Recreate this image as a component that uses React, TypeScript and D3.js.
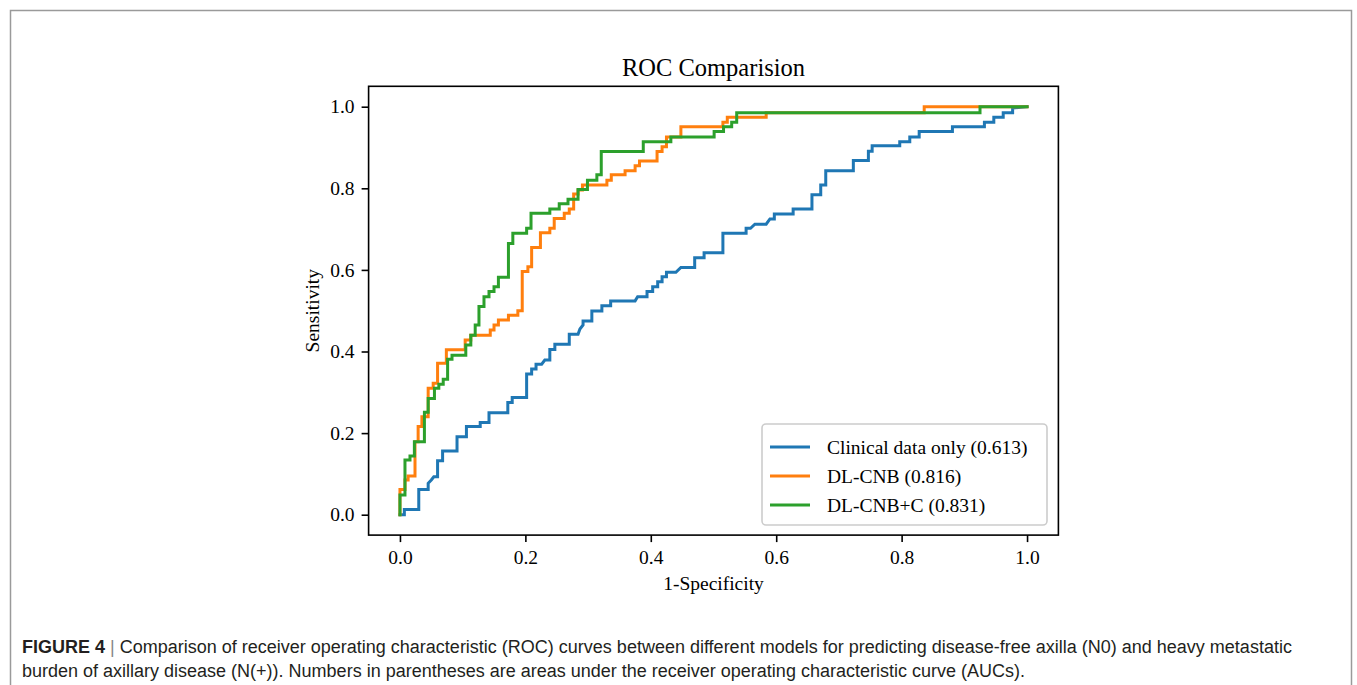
import React, { useEffect, useRef } from "react";
import * as d3 from "d3";

type Pt = [number, number];

// ROC corner points: [1-specificity, sensitivity]
const clinicalRoc: Pt[] = [
  [0, 0], [0.007, 0], [0.007, 0.013], [0.03, 0.013], [0.03, 0.062], [0.045, 0.062],
  [0.045, 0.077], [0.05, 0.085], [0.054, 0.093], [0.06, 0.093], [0.06, 0.132],
  [0.068, 0.132], [0.068, 0.156], [0.091, 0.156], [0.091, 0.191], [0.106, 0.191],
  [0.106, 0.216], [0.128, 0.216], [0.128, 0.226], [0.142, 0.226], [0.142, 0.25],
  [0.172, 0.25], [0.172, 0.275], [0.179, 0.275], [0.179, 0.287], [0.202, 0.287],
  [0.202, 0.345], [0.21, 0.345], [0.21, 0.357], [0.217, 0.357], [0.217, 0.369],
  [0.226, 0.369], [0.231, 0.379], [0.239, 0.379], [0.239, 0.405], [0.247, 0.405],
  [0.247, 0.418], [0.27, 0.418], [0.27, 0.442], [0.284, 0.442], [0.287, 0.455],
  [0.292, 0.465], [0.292, 0.475], [0.306, 0.475], [0.306, 0.499], [0.322, 0.499],
  [0.322, 0.512], [0.336, 0.512], [0.336, 0.524], [0.375, 0.524], [0.379, 0.534],
  [0.394, 0.534], [0.394, 0.547], [0.403, 0.547], [0.403, 0.559], [0.411, 0.559],
  [0.411, 0.571], [0.418, 0.571], [0.418, 0.583], [0.425, 0.583], [0.425, 0.594],
  [0.44, 0.594], [0.448, 0.606], [0.47, 0.606], [0.47, 0.63], [0.485, 0.63],
  [0.485, 0.642], [0.515, 0.642], [0.515, 0.69], [0.552, 0.69], [0.552, 0.702],
  [0.559, 0.702], [0.566, 0.712], [0.584, 0.712], [0.59, 0.725], [0.597, 0.725],
  [0.597, 0.737], [0.627, 0.737], [0.627, 0.749], [0.657, 0.749], [0.657, 0.784],
  [0.671, 0.784], [0.671, 0.808], [0.679, 0.808], [0.679, 0.843], [0.723, 0.843],
  [0.723, 0.868], [0.747, 0.868], [0.747, 0.891], [0.753, 0.891], [0.753, 0.904],
  [0.797, 0.904], [0.797, 0.914], [0.813, 0.914], [0.813, 0.926], [0.828, 0.926],
  [0.828, 0.939], [0.881, 0.939], [0.881, 0.951], [0.932, 0.951], [0.932, 0.962],
  [0.947, 0.962], [0.947, 0.974], [0.962, 0.974], [0.962, 0.985], [0.977, 0.985],
  [0.977, 0.997], [1, 1],
];

const cnbRoc: Pt[] = [
  [0, 0], [0, 0.062], [0.008, 0.062], [0.008, 0.085], [0.013, 0.085], [0.013, 0.095],
  [0.024, 0.095], [0.024, 0.179], [0.029, 0.179], [0.029, 0.216], [0.035, 0.216],
  [0.035, 0.24], [0.045, 0.24], [0.045, 0.31], [0.053, 0.31], [0.053, 0.322],
  [0.06, 0.322], [0.06, 0.371], [0.074, 0.371], [0.074, 0.404], [0.104, 0.404],
  [0.104, 0.428], [0.113, 0.428], [0.113, 0.44], [0.144, 0.44], [0.144, 0.453],
  [0.15, 0.453], [0.15, 0.465], [0.157, 0.465], [0.157, 0.477], [0.173, 0.477],
  [0.173, 0.489], [0.188, 0.489], [0.188, 0.5], [0.195, 0.5], [0.195, 0.596],
  [0.204, 0.596], [0.204, 0.608], [0.21, 0.608], [0.21, 0.655], [0.224, 0.655],
  [0.224, 0.691], [0.239, 0.691], [0.239, 0.702], [0.246, 0.702], [0.246, 0.726],
  [0.262, 0.726], [0.262, 0.739], [0.27, 0.739], [0.27, 0.749], [0.277, 0.749],
  [0.277, 0.786], [0.284, 0.786], [0.284, 0.796], [0.291, 0.796], [0.291, 0.808],
  [0.33, 0.808], [0.33, 0.82], [0.337, 0.82], [0.337, 0.833], [0.359, 0.833],
  [0.359, 0.843], [0.375, 0.843], [0.375, 0.855], [0.382, 0.855], [0.382, 0.867],
  [0.41, 0.867], [0.41, 0.89], [0.418, 0.89], [0.418, 0.902], [0.425, 0.902],
  [0.425, 0.926], [0.448, 0.926], [0.448, 0.951], [0.515, 0.951], [0.515, 0.962],
  [0.522, 0.962], [0.522, 0.974], [0.584, 0.974], [0.584, 0.985], [0.836, 0.985],
  [0.836, 1], [1, 1],
];

const cnbClinicalRoc: Pt[] = [
  [0, 0], [0, 0.048], [0.008, 0.048], [0.008, 0.134], [0.016, 0.134], [0.016, 0.144],
  [0.023, 0.144], [0.023, 0.179], [0.039, 0.179], [0.039, 0.251], [0.045, 0.251],
  [0.045, 0.285], [0.055, 0.285], [0.055, 0.31], [0.062, 0.31], [0.062, 0.32],
  [0.069, 0.32], [0.069, 0.332], [0.076, 0.332], [0.076, 0.381], [0.083, 0.381],
  [0.083, 0.391], [0.105, 0.391], [0.105, 0.416], [0.113, 0.416], [0.113, 0.44],
  [0.12, 0.44], [0.12, 0.465], [0.126, 0.465], [0.126, 0.51], [0.134, 0.51],
  [0.134, 0.534], [0.142, 0.534], [0.142, 0.547], [0.15, 0.547], [0.15, 0.559],
  [0.157, 0.559], [0.157, 0.582], [0.173, 0.582], [0.173, 0.665], [0.18, 0.665],
  [0.18, 0.69], [0.202, 0.69], [0.202, 0.702], [0.209, 0.702], [0.209, 0.739],
  [0.239, 0.739], [0.239, 0.749], [0.254, 0.749], [0.254, 0.762], [0.268, 0.762],
  [0.268, 0.773], [0.284, 0.773], [0.284, 0.797], [0.299, 0.797], [0.299, 0.82],
  [0.314, 0.82], [0.314, 0.833], [0.321, 0.833], [0.321, 0.89], [0.388, 0.89],
  [0.388, 0.914], [0.432, 0.914], [0.432, 0.926], [0.501, 0.926], [0.501, 0.939],
  [0.516, 0.939], [0.516, 0.951], [0.529, 0.951], [0.529, 0.962], [0.537, 0.962],
  [0.537, 0.985], [0.925, 0.985], [0.925, 1], [1, 1],
];

const seriesLabels = ["Clinical data only (0.613)", "DL-CNB (0.816)", "DL-CNB+C (0.831)"];
const seriesColors = ["#1f77b4", "#ff7f0e", "#2ca02c"];
const tickValues = [0, 0.2, 0.4, 0.6, 0.8, 1.0];

const titleText = "ROC Comparision";
const xLabelText = "1-Specificity";
const yLabelText = "Sensitivity";
const captionLine1 =
  "Comparison of receiver operating characteristic (ROC) curves between different models for predicting disease-free axilla (N0) and heavy metastatic";
const captionLine2 =
  "burden of axillary disease (N(+)). Numbers in parentheses are areas under the receiver operating characteristic curve (AUCs).";

const W = 1357;
const H = 685;
const serif = "'Liberation Serif', 'Times New Roman', serif";
const sans = "'Liberation Sans', Arial, sans-serif";

export default function App() {
  const svgRef = useRef<SVGSVGElement>(null);

  useEffect(() => {
    const svg = d3.select(svgRef.current);
    svg.selectAll("*").remove();

    const x = d3.scaleLinear().domain([-0.05, 1.05]).range([368.6, 1058.4]);
    const y = d3.scaleLinear().domain([-0.05, 1.05]).range([535.1, 86.3]);

    // figure frame
    svg
      .append("path")
      .attr("d", `M10.5,${H + 5} V10.5 H1351.5 V${H + 5}`)
      .attr("fill", "none")
      .attr("stroke", "#9a9a9a")
      .attr("stroke-width", 1.5);

    // curves
    const line = d3
      .line<Pt>()
      .x((d) => x(d[0]))
      .y((d) => y(d[1]));

    const all = [clinicalRoc, cnbRoc, cnbClinicalRoc];
    svg
      .append("g")
      .selectAll("path")
      .data(all)
      .enter()
      .append("path")
      .attr("d", (d) => line(d))
      .attr("fill", "none")
      .attr("stroke", (d, i) => seriesColors[i])
      .attr("stroke-width", 3)
      .attr("stroke-linejoin", "miter")
      .attr("stroke-linecap", "square");

    // axes
    const xAxis = d3
      .axisBottom(x)
      .tickValues(tickValues)
      .tickFormat(d3.format(".1f"))
      .tickSize(7)
      .tickPadding(8);
    const yAxis = d3
      .axisLeft(y)
      .tickValues(tickValues)
      .tickFormat(d3.format(".1f"))
      .tickSize(7)
      .tickPadding(7);

    const gx = svg.append("g").attr("transform", `translate(0,${y(-0.05)})`).call(xAxis);
    const gy = svg.append("g").attr("transform", `translate(${x(-0.05)},0)`).call(yAxis);
    [gx, gy].forEach((g) => {
      g.select(".domain").remove();
      g.selectAll("line").attr("stroke", "#000").attr("stroke-width", 1.6);
      g.selectAll("text")
        .attr("font-family", serif)
        .attr("font-size", 19.5)
        .attr("fill", "#000");
    });

    svg
      .append("rect")
      .attr("x", x(-0.05))
      .attr("y", y(1.05))
      .attr("width", x(1.05) - x(-0.05))
      .attr("height", y(-0.05) - y(1.05))
      .attr("fill", "none")
      .attr("stroke", "#000")
      .attr("stroke-width", 1.6);

    // title and axis labels
    svg
      .append("text")
      .attr("x", (x(-0.05) + x(1.05)) / 2)
      .attr("y", 76)
      .attr("text-anchor", "middle")
      .attr("font-family", serif)
      .attr("font-size", 24.5)
      .text(titleText);

    svg
      .append("text")
      .attr("x", (x(-0.05) + x(1.05)) / 2)
      .attr("y", 590)
      .attr("text-anchor", "middle")
      .attr("font-family", serif)
      .attr("font-size", 19.5)
      .text(xLabelText);

    svg
      .append("text")
      .attr("transform", `translate(319,${(y(-0.05) + y(1.05)) / 2}) rotate(-90)`)
      .attr("text-anchor", "middle")
      .attr("font-family", serif)
      .attr("font-size", 19.5)
      .text(yLabelText);

    // legend
    const legend = svg.append("g");
    legend
      .append("rect")
      .attr("x", 762)
      .attr("y", 424)
      .attr("width", 285)
      .attr("height", 101)
      .attr("rx", 4)
      .attr("fill", "#fff")
      .attr("fill-opacity", 0.8)
      .attr("stroke", "#cccccc")
      .attr("stroke-width", 1.6);

    const rowY = [447, 476, 505];
    seriesLabels.forEach((label, i) => {
      legend
        .append("line")
        .attr("x1", 770)
        .attr("x2", 810)
        .attr("y1", rowY[i])
        .attr("y2", rowY[i])
        .attr("stroke", seriesColors[i])
        .attr("stroke-width", 3);
      legend
        .append("text")
        .attr("x", 827)
        .attr("y", rowY[i] + 7)
        .attr("font-family", serif)
        .attr("font-size", 19.5)
        .text(label);
    });

    // caption
    const cap1 = svg
      .append("text")
      .attr("x", 22)
      .attr("y", 653)
      .attr("font-family", sans)
      .attr("font-size", 18)
      .attr("fill", "#231f20");
    cap1.append("tspan").attr("font-weight", "bold").text("FIGURE 4");
    cap1.append("tspan").attr("fill", "#888").text(" | ");
    cap1.append("tspan").text(captionLine1);

    svg
      .append("text")
      .attr("x", 22)
      .attr("y", 677)
      .attr("font-family", sans)
      .attr("font-size", 18)
      .attr("fill", "#231f20")
      .text(captionLine2);
  }, []);

  return (
    <svg
      ref={svgRef}
      width={W}
      height={H}
      style={{ position: "absolute", left: 0, top: 0, background: "#fff" }}
    />
  );
}
